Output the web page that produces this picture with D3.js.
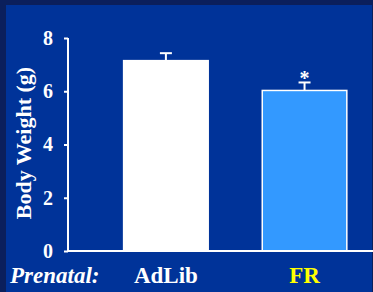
<!DOCTYPE html>
<html>
<head>
<meta charset="utf-8">
<script src="https://cdn.jsdelivr.net/npm/d3@7"></script>
<style>
  html, body { margin: 0; padding: 0; background: #0b1f5c; }
  svg { display: block; }
</style>
</head>
<body>
<svg id="chart"></svg>
<script>
// chart data
const groups = ['AdLib', 'FR'];
const means = [7.15, 6.03];
const errors = [0.28, 0.3];
const fills = ['#ffffff', '#3399ff'];
const labelColors = ['#ffffff', '#ffff00'];
const stars = ['', '*'];
const yTicks = [0, 2, 4, 6, 8];

const W = 373, H = 292;
const margin = { top: 38, right: 0, bottom: 41, left: 68 };
const width = W - margin.left - margin.right;
const height = H - margin.top - margin.bottom;

const root = d3.select('#chart')
    .attr('width', W)
    .attr('height', H);

// slide background with darker frame at top/left
root.append('rect')
    .attr('width', W).attr('height', H)
    .attr('fill', '#0b1f5c');
root.append('rect')
    .attr('x', 6).attr('y', 5)
    .attr('width', W - 7).attr('height', H - 5)
    .attr('fill', '#003399');

const svg = root.append('g')
    .attr('transform', `translate(${margin.left},${margin.top})`);

const x = d3.scaleBand()
    .domain(groups)
    .range([0, width])
    .paddingInner(0.39)
    .paddingOuter(0.295)
    .align(0.68);

const y = d3.scaleLinear()
    .domain([0, 8])
    .range([height, 0]);

// bars
svg.selectAll('.bar')
    .data(groups)
    .enter().append('rect')
    .attr('class', 'bar')
    .attr('x', d => x(d))
    .attr('y', (d, i) => y(means[i]))
    .attr('width', x.bandwidth())
    .attr('height', (d, i) => height - y(means[i]))
    .attr('fill', (d, i) => fills[i])
    .attr('stroke', '#ffffff')
    .attr('stroke-width', 1.5);

// error bars
const err = svg.selectAll('.err')
    .data(groups)
    .enter().append('g')
    .attr('class', 'err');
err.append('line')
    .attr('x1', d => x(d) + x.bandwidth() / 2)
    .attr('x2', d => x(d) + x.bandwidth() / 2)
    .attr('y1', (d, i) => y(means[i]))
    .attr('y2', (d, i) => y(means[i] + errors[i]))
    .attr('stroke', '#ffffff')
    .attr('stroke-width', 2);
err.append('line')
    .attr('x1', d => x(d) + x.bandwidth() / 2 - 6)
    .attr('x2', d => x(d) + x.bandwidth() / 2 + 6)
    .attr('y1', (d, i) => y(means[i] + errors[i]))
    .attr('y2', (d, i) => y(means[i] + errors[i]))
    .attr('stroke', '#ffffff')
    .attr('stroke-width', 2);

// significance star
svg.selectAll('.star')
    .data(groups)
    .enter().append('text')
    .attr('class', 'star')
    .attr('x', d => x(d) + x.bandwidth() / 2)
    .attr('y', (d, i) => y(means[i] + errors[i]) + 3)
    .attr('text-anchor', 'middle')
    .attr('fill', '#ffffff')
    .style('font', 'bold 20px "Liberation Serif", serif')
    .text((d, i) => stars[i]);

// y axis
const yAxis = svg.append('g')
    .attr('class', 'axis axis--y')
    .call(d3.axisLeft(y).tickValues(yTicks).tickSize(4).tickPadding(11).tickFormat(d3.format('d')));
yAxis.select('.domain').attr('stroke', '#ffffff').attr('stroke-width', 2)
    .attr('d', `M0,0V${height}`);
yAxis.selectAll('.tick line').attr('stroke', '#ffffff').attr('stroke-width', 2);
yAxis.selectAll('.tick text')
    .attr('fill', '#ffffff')
    .style('font', 'bold 20px "Liberation Serif", serif');

// x baseline
svg.append('line')
    .attr('x1', 0).attr('x2', width)
    .attr('y1', height).attr('y2', height)
    .attr('stroke', '#ffffff')
    .attr('stroke-width', 2);

// category labels
svg.selectAll('.cat')
    .data(groups)
    .enter().append('text')
    .attr('class', 'cat')
    .attr('x', d => x(d) + x.bandwidth() / 2)
    .attr('y', height + 32)
    .attr('text-anchor', 'middle')
    .attr('fill', (d, i) => labelColors[i])
    .style('font', 'bold 23px "Liberation Serif", serif')
    .text(d => d);

root.append('text')
    .attr('x', 10)
    .attr('y', H - 9)
    .attr('fill', '#ffffff')
    .style('font', 'italic bold 23px "Liberation Serif", serif')
    .text('Prenatal:');

// y label
root.append('text')
    .attr('transform', 'rotate(-90)')
    .attr('x', -143)
    .attr('y', 31)
    .attr('text-anchor', 'middle')
    .attr('fill', '#ffffff')
    .style('font', 'bold 22px "Liberation Serif", serif')
    .text('Body Weight (g)');
</script>
</body>
</html>
